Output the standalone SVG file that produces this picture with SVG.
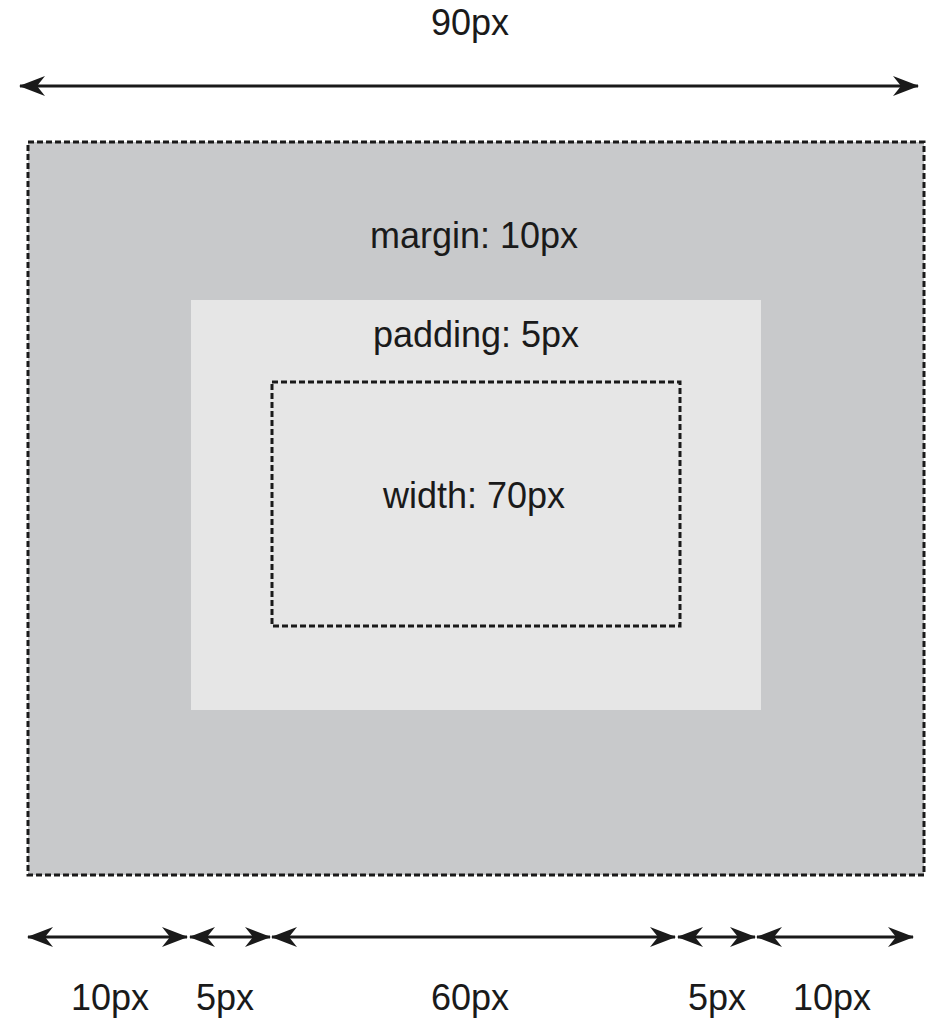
<svg xmlns="http://www.w3.org/2000/svg" width="928" height="1018" viewBox="0 0 928 1018">
<style>
text{font-family:"Liberation Sans",Arial,sans-serif;font-size:36px;fill:#1a1a1a;text-anchor:middle}
.dim{stroke:#1a1a1a;stroke-width:3;fill:none;marker-start:url(#ah);marker-end:url(#ah)}
.dash{fill:none;stroke:#1a1a1a;stroke-width:3;stroke-dasharray:6 3}
</style>
<defs>
<marker id="ah" markerUnits="userSpaceOnUse" markerWidth="30" markerHeight="24" refX="0" refY="0" viewBox="-26 -12 28 24" orient="auto-start-reverse">
<path d="M1,0 L-25,-10 L-17,0 L-25,10 Z" fill="#1a1a1a"/>
</marker>
</defs>
<rect width="928" height="1018" fill="#fff"/>
<g id="margin-box">
<rect x="28" y="142" width="896" height="733" fill="#c8c9cb"/>
<rect class="dash" x="28" y="142" width="896" height="733"/>
<text x="474" y="248">margin: 10px</text>
</g>
<g id="padding-box">
<rect x="191" y="300" width="570" height="410" fill="#e6e6e6"/>
<text x="476" y="347">padding: 5px</text>
</g>
<g id="content-box">
<rect class="dash" x="272" y="382" width="408" height="244"/>
<text x="474" y="508">width: 70px</text>
</g>
<g id="connectors">
<line class="dim" x1="20" y1="86" x2="918" y2="86"/>
<line class="dim" x1="28" y1="937" x2="187" y2="937"/>
<line class="dim" x1="190" y1="937" x2="270" y2="937"/>
<line class="dim" x1="272" y1="937" x2="675" y2="937"/>
<line class="dim" x1="678" y1="937" x2="755" y2="937"/>
<line class="dim" x1="757" y1="937" x2="913" y2="937"/>
</g>
<g id="labels">
<text x="470" y="35">90px</text>
<text x="110" y="1010">10px</text>
<text x="225" y="1010">5px</text>
<text x="470" y="1010">60px</text>
<text x="717" y="1010">5px</text>
<text x="832" y="1010">10px</text>
</g>
</svg>
